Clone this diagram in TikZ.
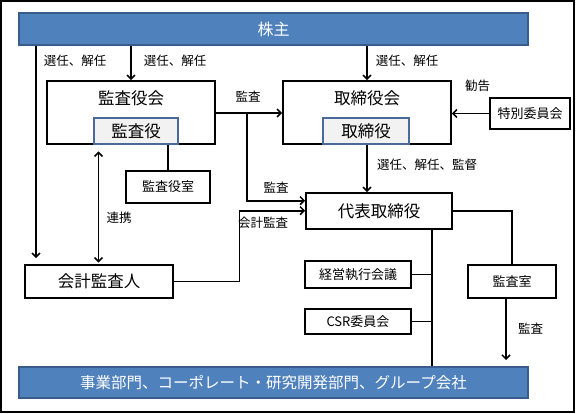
\documentclass[tikz,border=0pt]{standalone}
\usepackage{fontspec}
\setmainfont{Noto Sans CJK JP}
\usetikzlibrary{arrows.meta,shadows}
\definecolor{barblue}{HTML}{4F81BD}
\definecolor{bardark}{HTML}{385D8A}
\definecolor{innerborder}{HTML}{4A6A9C}
\definecolor{innerfill}{HTML}{F2F2F2}
\tikzset{
  shd/.style={drop shadow={shadow xshift=1.3pt,shadow yshift=-1.3pt,opacity=0.25,fill=black}},
  box/.style={draw=black,line width=1.8pt,fill=white,shd,inner sep=0pt,font=\fontsize{13}{15}\selectfont},
  bigbox/.style={box,font=\fontsize{16.5}{19}\selectfont},
  innerbox/.style={draw=innerborder,line width=1.3pt,fill=innerfill,inner sep=0pt,font=\fontsize{16.5}{19}\selectfont},
  bar/.style={draw=bardark,line width=1.6pt,fill=barblue,text=white,shd,inner sep=0pt},
  lbl/.style={inner sep=0pt,font=\fontsize{12.5}{14}\selectfont},
  ttl/.style={inner sep=0pt,font=\fontsize{16.5}{19}\selectfont},
  ln/.style={line width=1.7pt},
  arr/.style={ln,-{Straight Barb[length=4pt,width=8pt,line width=1.5pt]}},
  dbl/.style={ln,{Straight Barb[length=4pt,width=8pt,line width=1.5pt]}-{Straight Barb[length=4pt,width=8pt,line width=1.5pt]}},
}
\begin{document}
\begin{tikzpicture}[x=1pt,y=-1pt]
\useasboundingbox (0,0) rectangle (576,414);
\draw[line width=1.3pt] (1,1) rectangle (574,412);

% bars
\node[bar,minimum width=509,minimum height=32,font=\fontsize{16}{18}\selectfont] (kabu) at (273.5,29) {株主};
\node[bar,minimum width=509,minimum height=31,font=\fontsize{15.5}{18}\selectfont] (jigyo) at (273.5,382.5) {事業部門、コーポレート・研究開発部門、グループ会社};

% boxes
\node[box,minimum width=168,minimum height=63] (kansakai) at (131,112.5) {};
\node[ttl] (kansakaiT) at (131,98) {監査役会};
\node[innerbox,minimum width=84,minimum height=26] (kansayaku) at (136,131) {監査役};
\node[box,minimum width=168,minimum height=63] (torikai) at (367,112.5) {};
\node[ttl] (torikaiT) at (367,98) {取締役会};
\node[innerbox,minimum width=86,minimum height=26] (toriyaku) at (366,131) {取締役};
\node[box,minimum width=80,minimum height=31] (toku) at (530,113.5) {特別委員会};
\node[box,minimum width=84,minimum height=32] (kshitsu) at (168,187) {監査役室};
\node[bigbox,minimum width=146,minimum height=36] (daihyo) at (379,211) {代表取締役};
\node[bigbox,minimum width=148,minimum height=33] (kaikei) at (99,281.5) {会計監査人};
\node[box,minimum width=106,minimum height=27] (keiei) at (358,274.5) {経営執行会議};
\node[box,minimum width=106,minimum height=25] (csr) at (358,321.5) {CSR委員会};
\node[box,minimum width=88,minimum height=33] (kroom) at (512,281.5) {監査室};

% connectors
\draw[arr] (kabu.south -| kansakai.north) -- (kansakai.north);
\draw[arr] (kabu.south -| torikai.north) -- (torikai.north);
\draw[arr,shorten >=6pt] (kabu.south -| 36,0) -- (kaikei.north -| 36,0);
\draw[arr] (toku.west) -- (torikai.east |- toku.west);
\draw[arr] (kansakai.east |- 0,113) -- (torikai.west |- 0,113);
\coordinate (br) at (247,113);
\draw[arr] (br) -- (247,200.7) -- (daihyo.west |- 0,200.7);
\draw[ln] (kansakai.south -| kshitsu.north) -- (kshitsu.north);
\draw[dbl,shorten <=6.5pt,shorten >=1.5pt] (kansakai.south -| 98.5,0) -- (kaikei.north -| 98.5,0);
\draw[arr] (torikai.south) -- (daihyo.north -| torikai.south);
\draw[arr] (kaikei.east) -- (239.5,281.5) -- (239.5,210.7) -- (daihyo.west |- 0,210.7);
\draw[ln] (daihyo.east |- 0,210.7) -- (512,210.7) -- (kroom.north);
\draw[ln] (daihyo.south -| 431.7,0) -- (jigyo.north -| 431.7,0);
\draw[ln] (keiei.east) -- (keiei.east -| 431.7,0);
\draw[ln] (csr.east) -- (csr.east -| 431.7,0);
\coordinate (kend) at (506,360);
\draw[arr] (kroom.south -| kend) -- (kend);

% labels
\node[lbl] (l1) at (75,61) {選任、解任};
\node[lbl] (l2) at (175,61) {選任、解任};
\node[lbl] (l3) at (407,61) {選任、解任};
\node[lbl] (l4) at (477.5,86) {勧告};
\node[lbl] (l5) at (248,97) {監査};
\node[lbl] (l6) at (276,188) {監査};
\node[lbl] (l7) at (427,165) {選任、解任、監督};
\node[lbl,anchor=west] (l8) at (238,223) {会計監査};
\node[lbl] (l9) at (119,218) {連携};
\node[lbl] (l10) at (530.5,329) {監査};
\end{tikzpicture}
\end{document}
